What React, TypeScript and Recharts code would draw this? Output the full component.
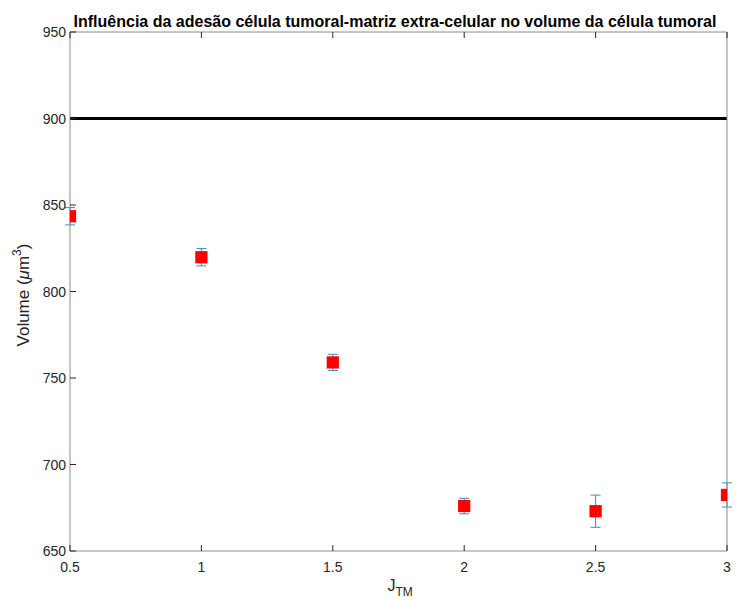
import React from 'react';
import {
  ComposedChart,
  Scatter,
  ErrorBar,
  XAxis,
  YAxis,
  ZAxis,
  ReferenceLine,
  Label,
} from 'recharts';

// J_TM values and the mean tumour-cell volume (um^3) with its error
const jtm = [0.5, 1, 1.5, 2, 2.5, 3];
const volume = [843.5, 819.8, 759, 676, 673, 682.4];
const volumeErr = [5, 5, 4.7, 4.5, 9.3, 7];
const targetVolume = 900;

const xTicks = [0.5, 1, 1.5, 2, 2.5, 3];
const yTicks = [650, 700, 750, 800, 850, 900, 950];

const data = jtm.map((j, i) => ({ j, v: volume[i], err: volumeErr[i] }));

const AXIS = '#8c8c8c';
const TICK = '#262626';
const TXT = '#262626';
const FONT = '"Liberation Sans", Arial, Helvetica, sans-serif';
const TL = 6; // inward tick length

// MATLAB style ticks point into the plot box
const BottomTick = (p: any) => (
  <g>
    <line x1={p.x} x2={p.x} y1={p.y} y2={p.y - TL} stroke={TICK} />
    <text x={p.x} y={p.y + 21} textAnchor="middle" fill={TXT} fontSize={14} fontFamily={FONT}>
      {p.payload.value}
    </text>
  </g>
);
const LeftTick = (p: any) => (
  <g>
    <line x1={p.x} x2={p.x + TL} y1={p.y} y2={p.y} stroke={TICK} />
    <text x={p.x - 4} y={p.y + 5} textAnchor="end" fill={TXT} fontSize={14} fontFamily={FONT}>
      {p.payload.value}
    </text>
  </g>
);
const TopTick = (p: any) => <line x1={p.x} x2={p.x} y1={p.y} y2={p.y + TL} stroke={TICK} />;
const RightTick = (p: any) => <line x1={p.x} x2={p.x - TL} y1={p.y} y2={p.y} stroke={TICK} />;

const YTitle = () => {
  const cy = 295;
  return (
    <text
      x={25}
      y={cy}
      transform={`rotate(-90, 25, ${cy})`}
      textAnchor="middle"
      dominantBaseline="middle"
      fill={TXT}
      fontSize={17}
      fontFamily={FONT}
    >
      Volume (<tspan fontStyle="italic">μ</tspan>m<tspan dy={-7} fontSize={12}>3</tspan>
      <tspan dy={7}>)</tspan>
    </text>
  );
};

const XTitle = (props: any) => {
  const vb = props.viewBox || {};
  const cx = vb.x + vb.width / 2;
  return (
    <text x={cx - 11} y={591} fill={TXT} fontSize={16} fontFamily={FONT}>
      J<tspan dy={5} fontSize={12}>TM</tspan>
    </text>
  );
};

const App: React.FC = () => {
  return (
    <div style={{ position: 'absolute', left: 0, top: 0, width: 736, height: 604, background: '#fff' }}>
      <div
        style={{
          position: 'absolute',
          left: 0,
          width: 790,
          top: 12,
          textAlign: 'center',
          fontFamily: FONT,
          fontWeight: 'bold',
          fontSize: 16,
          color: '#000',
          whiteSpace: 'nowrap',
          lineHeight: '20px',
        }}
      >
        Influência da adesão célula tumoral-matriz extra-celular no volume da célula tumoral
      </div>
      <ComposedChart width={736} height={604} data={data} margin={{ top: 31, right: 8, bottom: 0, left: 0 }}>
        <XAxis
          xAxisId="b"
          type="number"
          dataKey="j"
          domain={[0.5, 3]}
          ticks={xTicks}
          allowDataOverflow
          height={53}
          stroke={AXIS}
          tickLine={false}
          tickSize={0}
          tickMargin={0}
          tick={<BottomTick />}
        >
          <Label content={<XTitle />} />
        </XAxis>
        <XAxis
          xAxisId="t"
          orientation="top"
          type="number"
          dataKey="j"
          domain={[0.5, 3]}
          ticks={xTicks}
          height={1}
          stroke={AXIS}
          tickLine={false}
          tickSize={0}
          tickMargin={0}
          tick={<TopTick />}
        />
        <YAxis
          yAxisId="l"
          type="number"
          dataKey="v"
          domain={[650, 950]}
          ticks={yTicks}
          allowDataOverflow
          width={70}
          stroke={AXIS}
          tickLine={false}
          tickSize={0}
          tickMargin={0}
          tick={<LeftTick />}
        >
          <Label content={<YTitle />} />
        </YAxis>
        <YAxis
          yAxisId="r"
          orientation="right"
          type="number"
          domain={[650, 950]}
          ticks={yTicks}
          width={1}
          stroke={AXIS}
          tickLine={false}
          tickSize={0}
          tickMargin={0}
          tick={<RightTick />}
        />
        <ZAxis range={[150, 150]} />
        <ReferenceLine xAxisId="b" yAxisId="l" y={targetVolume} stroke="#000" strokeWidth={3} />
        <Scatter
          xAxisId="b"
          yAxisId="l"
          dataKey="v"
          fill="#ff0000"
          shape="square"
          isAnimationActive={false}
        >
          <ErrorBar dataKey="err" direction="y" width={5} stroke="#3a8fc2" strokeWidth={1} />
        </Scatter>
      </ComposedChart>
    </div>
  );
};

export default App;
